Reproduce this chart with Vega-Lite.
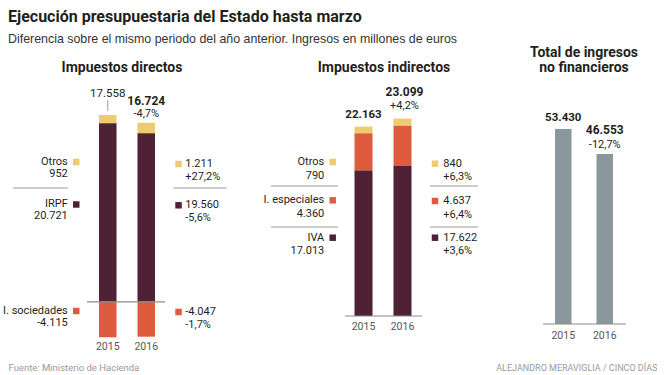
{
  "$schema": "https://vega.github.io/schema/vega-lite/v6.json",
  "padding": {"left": 0, "top": 9, "right": 0, "bottom": 0},
  "background": "white",
  "title": {
    "text": "Ejecución presupuestaria del Estado hasta marzo",
    "subtitle": "Diferencia sobre el mismo periodo del año anterior. Ingresos en millones de euros",
    "anchor": "start",
    "dx": 8,
    "font": "Roboto, Liberation Sans, sans-serif",
    "fontSize": 16,
    "fontWeight": "bold",
    "color": "#231f20",
    "subtitleFont": "Liberation Sans, Arial, sans-serif",
    "subtitleFontSize": 12.4,
    "subtitleColor": "#333333",
    "subtitlePadding": 7.5,
    "offset": 1
  },
  "datasets": {
    "dir": [
      {"year": "2015", "cat": "Otros", "value": 952},
      {"year": "2015", "cat": "IRPF", "value": 20721},
      {"year": "2015", "cat": "I. sociedades", "value": -4115},
      {"year": "2016", "cat": "Otros", "value": 1211, "chg": 0.272},
      {"year": "2016", "cat": "IRPF", "value": 19560, "chg": -0.056},
      {"year": "2016", "cat": "I. sociedades", "value": -4047, "chg": -0.017}
    ],
    "dirTot": [
      {"year": "2015", "total": 17558},
      {"year": "2016", "total": 16724, "chg": -0.047}
    ],
    "ind": [
      {"year": "2015", "cat": "Otros", "value": 790},
      {"year": "2015", "cat": "I. especiales", "value": 4360},
      {"year": "2015", "cat": "IVA", "value": 17013},
      {"year": "2016", "cat": "Otros", "value": 840, "chg": 0.063},
      {"year": "2016", "cat": "I. especiales", "value": 4637, "chg": 0.064},
      {"year": "2016", "cat": "IVA", "value": 17622, "chg": 0.036}
    ],
    "indTot": [
      {"year": "2015", "total": 22163},
      {"year": "2016", "total": 23099, "chg": 0.042}
    ],
    "tot": [
      {"year": "2015", "total": 53430},
      {"year": "2016", "total": 46553, "chg": -0.127}
    ]
  },
  "spacing": 0,
  "bounds": "flush",
  "hconcat": [
    {
      "width": 250,
      "height": 256,
      "title": {"text": "Impuestos directos", "dx": -3},
      "data": {"name": "dir"},
      "encoding": {
        "x": {
          "field": "year", "type": "nominal",
          "scale": {"domain": ["2015", "2016"], "range": [99, 155], "paddingInner": 0.545, "paddingOuter": 0},
          "axis": {"title": "Fuente: Ministerio de Hacienda", "titleX": 8, "titleY": 29, "titleAlign": "left", "labelPadding": 3}
        }
      },
      "layer": [
        {
          "mark": {"type": "bar"},
          "encoding": {
            "y": {"field": "value", "type": "quantitative", "stack": "zero", "scale": {"domain": [-4200, 25500], "nice": false, "zero": false}, "axis": null},
            "color": {"field": "cat", "type": "nominal", "scale": {"domain": ["Otros", "IRPF", "I. sociedades", "I. especiales", "IVA"], "range": ["#efcb70", "#4e2134", "#df5b3e", "#df5b3e", "#4e2134"]}, "legend": null},
            "order": {"field": "value", "sort": "descending"}
          }
        },
        {
          "data": {"name": "dirTot"},
          "transform": [{"filter": "datum.year == '2015'"}],
          "layer": [
            {"mark": {"type": "rule", "color": "#8c8c8c", "strokeWidth": 1.2, "xOffset": -20.75, "x2Offset": 18.8}, "encoding": {"x": {"datum": "2015"}, "x2": {"datum": "2016"}, "y": {"datum": 0}}},
            {"mark": {"type": "rule", "color": "#9a9a9a", "strokeWidth": 1, "xOffset": -94.75, "x2Offset": -39.75}, "encoding": {"x": {"datum": "2015"}, "x2": {"datum": "2015"}, "y": {"datum": 13203}}},
            {"mark": {"type": "rule", "color": "#9a9a9a", "strokeWidth": 1, "xOffset": 27, "x2Offset": 80.5}, "encoding": {"x": {"datum": "2016"}, "x2": {"datum": "2016"}, "y": {"datum": 13203}}},
            {"mark": {"type": "rule", "color": "#9a9a9a", "strokeWidth": 1}, "encoding": {"y": {"datum": 23413}, "y2": {"datum": 22136}}},
            {"mark": {"type": "text", "fontSize": 11.5}, "encoding": {"y": {"datum": 24109}, "text": {"field": "total", "type": "quantitative", "format": ",d"}}}
          ]
        },
        {
          "data": {"name": "dirTot"},
          "transform": [{"filter": "datum.year == '2016'"}],
          "encoding": {"y": {"datum": 23297}},
          "layer": [
            {"mark": {"type": "text", "fontWeight": "bold", "fontSize": 12}, "encoding": {"text": {"field": "total", "type": "quantitative", "format": ",d"}}},
            {"mark": {"type": "text", "dy": 13}, "encoding": {"text": {"field": "chg", "type": "quantitative", "format": "+.1%"}}}
          ]
        },
        {
          "transform": [{"filter": "datum.year == '2015' && datum.cat == 'Otros'"}],
          "encoding": {"y": {"datum": 16219}},
          "layer": [
            {"mark": {"type": "text", "align": "right", "dx": -40}, "encoding": {"text": {"field": "cat"}}},
            {"mark": {"type": "text", "align": "right", "dx": -40, "dy": 12}, "encoding": {"text": {"field": "value", "type": "quantitative", "format": ",d"}}},
            {"mark": {"type": "square", "size": 42, "opacity": 1, "xOffset": -31.5}, "encoding": {"color": {"field": "cat", "type": "nominal", "legend": null}}}
          ]
        },
        {
          "transform": [{"filter": "datum.year == '2015' && datum.cat == 'IRPF'"}],
          "encoding": {"y": {"datum": 11289}},
          "layer": [
            {"mark": {"type": "text", "align": "right", "dx": -40}, "encoding": {"text": {"field": "cat"}}},
            {"mark": {"type": "text", "align": "right", "dx": -40, "dy": 12}, "encoding": {"text": {"field": "value", "type": "quantitative", "format": ",d"}}},
            {"mark": {"type": "square", "size": 42, "opacity": 1, "xOffset": -31.5}, "encoding": {"color": {"field": "cat", "type": "nominal", "legend": null}}}
          ]
        },
        {
          "transform": [{"filter": "datum.year == '2015' && datum.cat == 'I. sociedades'"}],
          "encoding": {"y": {"datum": -1067}},
          "layer": [
            {"mark": {"type": "text", "align": "right", "dx": -40}, "encoding": {"text": {"field": "cat"}}},
            {"mark": {"type": "text", "align": "right", "dx": -40, "dy": 12}, "encoding": {"text": {"field": "value", "type": "quantitative", "format": ",d"}}},
            {"mark": {"type": "square", "size": 42, "opacity": 1, "xOffset": -31.5}, "encoding": {"color": {"field": "cat", "type": "nominal", "legend": null}}}
          ]
        },
        {
          "transform": [{"filter": "datum.year == '2016' && datum.cat == 'Otros'"}],
          "encoding": {"y": {"datum": 15988}},
          "layer": [
            {"mark": {"type": "text", "align": "left", "dx": 39}, "encoding": {"text": {"field": "value", "type": "quantitative", "format": ",d"}}},
            {"mark": {"type": "text", "align": "left", "dx": 39, "dy": 13}, "encoding": {"text": {"field": "chg", "type": "quantitative", "format": "+.1%"}}},
            {"mark": {"type": "square", "size": 42, "opacity": 1, "xOffset": 32.3}, "encoding": {"color": {"field": "cat", "type": "nominal", "legend": null}}}
          ]
        },
        {
          "transform": [{"filter": "datum.year == '2016' && datum.cat == 'IRPF'"}],
          "encoding": {"y": {"datum": 11196}},
          "layer": [
            {"mark": {"type": "text", "align": "left", "dx": 39}, "encoding": {"text": {"field": "value", "type": "quantitative", "format": ",d"}}},
            {"mark": {"type": "text", "align": "left", "dx": 39, "dy": 12.5}, "encoding": {"text": {"field": "chg", "type": "quantitative", "format": "+.1%"}}},
            {"mark": {"type": "square", "size": 42, "opacity": 1, "xOffset": 32.3}, "encoding": {"color": {"field": "cat", "type": "nominal", "legend": null}}}
          ]
        },
        {
          "transform": [{"filter": "datum.year == '2016' && datum.cat == 'I. sociedades'"}],
          "encoding": {"y": {"datum": -1183}},
          "layer": [
            {"mark": {"type": "text", "align": "left", "dx": 39}, "encoding": {"text": {"field": "value", "type": "quantitative", "format": ",d"}}},
            {"mark": {"type": "text", "align": "left", "dx": 39, "dy": 13}, "encoding": {"text": {"field": "chg", "type": "quantitative", "format": "+.1%"}}},
            {"mark": {"type": "square", "size": 42, "opacity": 1, "xOffset": 32.3}, "encoding": {"color": {"field": "cat", "type": "nominal", "legend": null}}}
          ]
        }
      ]
    },
    {
      "width": 266,
      "height": 234,
      "title": {"text": "Impuestos indirectos", "dx": 1},
      "data": {"name": "ind"},
      "encoding": {
        "x": {
          "field": "year", "type": "nominal",
          "scale": {"domain": ["2015", "2016"], "range": [104.5, 161.5], "paddingInner": 0.538, "paddingOuter": 0},
          "axis": {"title": null, "labelPadding": 5}
        }
      },
      "layer": [
        {
          "mark": {"type": "bar"},
          "encoding": {
            "y": {"field": "value", "type": "quantitative", "stack": "zero", "scale": {"domain": [0, 27378], "nice": false, "zero": false}, "axis": null},
            "color": {"field": "cat", "type": "nominal", "legend": null},
            "order": {"field": "value", "sort": "descending"}
          }
        },
        {
          "data": {"name": "indTot"},
          "transform": [{"filter": "datum.year == '2015'"}],
          "layer": [
            {"mark": {"type": "rule", "color": "#8c8c8c", "strokeWidth": 1.2, "xOffset": -18.5, "x2Offset": 19.5}, "encoding": {"x": {"datum": "2015"}, "x2": {"datum": "2016"}, "y": {"datum": 0}}},
            {"mark": {"type": "rule", "color": "#9a9a9a", "strokeWidth": 1, "xOffset": -92.5, "x2Offset": -25.5}, "encoding": {"x": {"datum": "2015"}, "x2": {"datum": "2015"}, "y": {"datum": 15210}}},
            {"mark": {"type": "rule", "color": "#9a9a9a", "strokeWidth": 1, "xOffset": -92.5, "x2Offset": -25.5}, "encoding": {"x": {"datum": "2015"}, "x2": {"datum": "2015"}, "y": {"datum": 10413}}},
            {"mark": {"type": "rule", "color": "#9a9a9a", "strokeWidth": 1, "xOffset": 27.5, "x2Offset": 75.5}, "encoding": {"x": {"datum": "2016"}, "x2": {"datum": "2016"}, "y": {"datum": 15210}}},
            {"mark": {"type": "rule", "color": "#9a9a9a", "strokeWidth": 1, "xOffset": 27.5, "x2Offset": 75.5}, "encoding": {"x": {"datum": "2016"}, "x2": {"datum": "2016"}, "y": {"datum": 10413}}},
            {"mark": {"type": "text", "fontSize": 11.5, "fontWeight": "bold"}, "encoding": {"y": {"datum": 23517}, "text": {"field": "total", "type": "quantitative", "format": ",d"}}}
          ]
        },
        {
          "data": {"name": "indTot"},
          "transform": [{"filter": "datum.year == '2016'"}],
          "encoding": {"y": {"datum": 26208}},
          "layer": [
            {"mark": {"type": "text", "fontWeight": "bold", "fontSize": 12, "dx": 2}, "encoding": {"text": {"field": "total", "type": "quantitative", "format": ",d"}}},
            {"mark": {"type": "text", "dy": 14, "dx": 2}, "encoding": {"text": {"field": "chg", "type": "quantitative", "format": "+.1%"}}}
          ]
        },
        {
          "transform": [{"filter": "datum.year == '2015' && datum.cat == 'Otros'"}],
          "encoding": {"y": {"datum": 18018}},
          "layer": [
            {"mark": {"type": "text", "align": "right", "dx": -39.2}, "encoding": {"text": {"field": "cat"}}},
            {"mark": {"type": "text", "align": "right", "dx": -39.2, "dy": 14}, "encoding": {"text": {"field": "value", "type": "quantitative", "format": ",d"}}},
            {"mark": {"type": "square", "size": 42, "opacity": 1, "xOffset": -30.8}, "encoding": {"color": {"field": "cat", "type": "nominal", "legend": null}}}
          ]
        },
        {
          "transform": [{"filter": "datum.year == '2015' && datum.cat == 'I. especiales'"}],
          "encoding": {"y": {"datum": 13537}},
          "layer": [
            {"mark": {"type": "text", "align": "right", "dx": -39.2}, "encoding": {"text": {"field": "cat"}}},
            {"mark": {"type": "text", "align": "right", "dx": -39.2, "dy": 14}, "encoding": {"text": {"field": "value", "type": "quantitative", "format": ",d"}}},
            {"mark": {"type": "square", "size": 42, "opacity": 1, "xOffset": -30.8}, "encoding": {"color": {"field": "cat", "type": "nominal", "legend": null}}}
          ]
        },
        {
          "transform": [{"filter": "datum.year == '2015' && datum.cat == 'IVA'"}],
          "encoding": {"y": {"datum": 9161}},
          "layer": [
            {"mark": {"type": "text", "align": "right", "dx": -39.2}, "encoding": {"text": {"field": "cat"}}},
            {"mark": {"type": "text", "align": "right", "dx": -39.2, "dy": 13.3}, "encoding": {"text": {"field": "value", "type": "quantitative", "format": ",d"}}},
            {"mark": {"type": "square", "size": 42, "opacity": 1, "xOffset": -30.8}, "encoding": {"color": {"field": "cat", "type": "nominal", "legend": null}}}
          ]
        },
        {
          "transform": [{"filter": "datum.year == '2016' && datum.cat == 'Otros'"}],
          "encoding": {"y": {"datum": 17819}},
          "layer": [
            {"mark": {"type": "text", "align": "left", "dx": 40.8}, "encoding": {"text": {"field": "value", "type": "quantitative", "format": ",d"}}},
            {"mark": {"type": "text", "align": "left", "dx": 40.8, "dy": 13.3}, "encoding": {"text": {"field": "chg", "type": "quantitative", "format": "+.1%"}}},
            {"mark": {"type": "square", "size": 42, "opacity": 1, "xOffset": 32.5}, "encoding": {"color": {"field": "cat", "type": "nominal", "legend": null}}}
          ]
        },
        {
          "transform": [{"filter": "datum.year == '2016' && datum.cat == 'I. especiales'"}],
          "encoding": {"y": {"datum": 13455}},
          "layer": [
            {"mark": {"type": "text", "align": "left", "dx": 40.8}, "encoding": {"text": {"field": "value", "type": "quantitative", "format": ",d"}}},
            {"mark": {"type": "text", "align": "left", "dx": 40.8, "dy": 13.5}, "encoding": {"text": {"field": "chg", "type": "quantitative", "format": "+.1%"}}},
            {"mark": {"type": "square", "size": 42, "opacity": 1, "xOffset": 32.5}, "encoding": {"color": {"field": "cat", "type": "nominal", "legend": null}}}
          ]
        },
        {
          "transform": [{"filter": "datum.year == '2016' && datum.cat == 'IVA'"}],
          "encoding": {"y": {"datum": 9161}},
          "layer": [
            {"mark": {"type": "text", "align": "left", "dx": 40.8}, "encoding": {"text": {"field": "value", "type": "quantitative", "format": ",d"}}},
            {"mark": {"type": "text", "align": "left", "dx": 40.8, "dy": 13.3}, "encoding": {"text": {"field": "chg", "type": "quantitative", "format": "+.1%"}}},
            {"mark": {"type": "square", "size": 42, "opacity": 1, "xOffset": 32.5}, "encoding": {"color": {"field": "cat", "type": "nominal", "legend": null}}}
          ]
        }
      ]
    },
    {
      "width": 136,
      "height": 242,
      "title": {"text": ["Total de ingresos", "no financieros"], "lineHeight": 15},
      "data": {"name": "tot"},
      "encoding": {
        "x": {
          "field": "year", "type": "nominal",
          "scale": {"domain": ["2015", "2016"], "range": [39, 97], "paddingInner": 0.602, "paddingOuter": 0},
          "axis": {"title": "ALEJANDRO MERAVIGLIA / CINCO DÍAS", "titleX": 141, "titleY": 43, "titleAlign": "right", "titleFontSize": 9, "labelPadding": 6}
        },
        "y": {"field": "total", "type": "quantitative", "scale": {"domain": [0, 66308], "nice": false, "zero": false}, "axis": null}
      },
      "layer": [
        {"mark": {"type": "bar", "color": "#8a979b"}},
        {
          "transform": [{"filter": "datum.year == '2015'"}],
          "layer": [
            {"mark": {"type": "rule", "color": "#8c8c8c", "strokeWidth": 1.2, "xOffset": -20.25, "x2Offset": 21.25}, "encoding": {"x": {"datum": "2015"}, "x2": {"datum": "2016"}, "y": {"datum": 0}}},
            {"mark": {"type": "text", "fontSize": 11.5, "fontWeight": "bold", "dy": -11}, "encoding": {"text": {"field": "total", "type": "quantitative", "format": ",d"}}}
          ]
        },
        {
          "transform": [{"filter": "datum.year == '2016'"}],
          "layer": [
            {"mark": {"type": "text", "fontWeight": "bold", "fontSize": 12, "dy": -24}, "encoding": {"text": {"field": "total", "type": "quantitative", "format": ",d"}}},
            {"mark": {"type": "text", "dy": -9}, "encoding": {"text": {"field": "chg", "type": "quantitative", "format": "+.1%"}}}
          ]
        }
      ]
    }
  ],
  "config": {
    "view": {"stroke": null},
    "locale": {"number": {"decimal": ",", "thousands": ".", "grouping": [3], "currency": ["", " €"], "minus": "-"}},
    "text": {"font": "Roboto, Liberation Sans, sans-serif", "fontSize": 11, "color": "#231f20", "baseline": "middle"},
    "title": {"font": "Roboto, Liberation Sans, sans-serif", "fontSize": 14, "fontWeight": "bold", "color": "#231f20", "anchor": "middle", "offset": 7, "lineHeight": 13, "frame": "group"},
    "axis": {
      "domain": false, "ticks": false, "grid": false,
      "labelFont": "Roboto, Liberation Sans, sans-serif",
      "labelFontSize": 10.5, "labelColor": "#555555", "labelAngle": 0,
      "titleFont": "Roboto, Liberation Sans, sans-serif",
      "titleFontSize": 9.5, "titleFontWeight": "normal", "titleColor": "#9a9a9a", "titleBaseline": "middle"
    }
  }
}
